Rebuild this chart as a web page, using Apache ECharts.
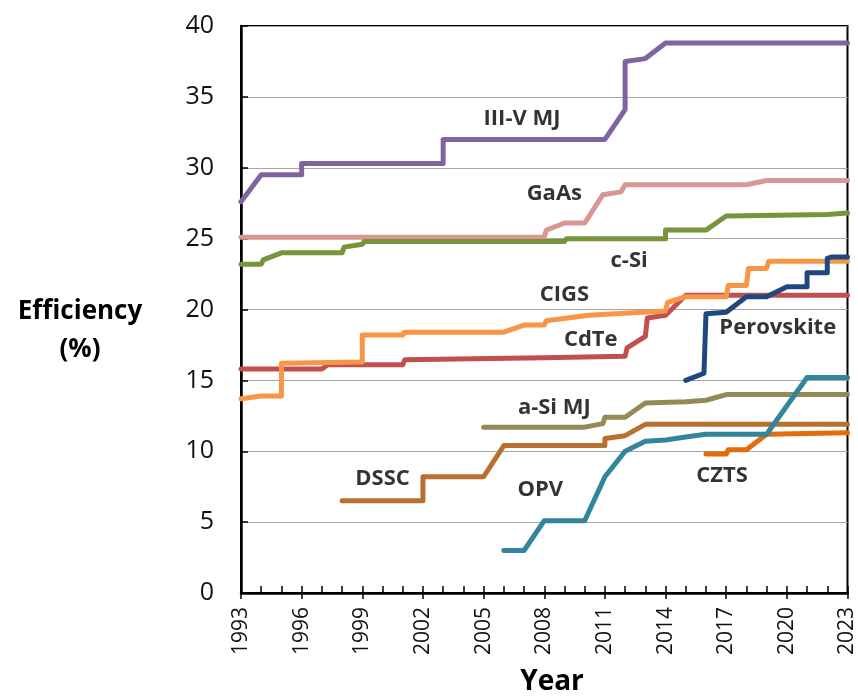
<!DOCTYPE html>
<html>
<head>
<meta charset="utf-8">
<title>Solar cell efficiency records</title>
<script src="https://cdn.jsdelivr.net/npm/echarts@6/dist/echarts.min.js"></script>
<style>
  html, body { margin: 0; padding: 0; background: #fff; }
  #chart { width: 858px; height: 698px; }
</style>
</head>
<body>
<div id="chart"></div>
<script>
// Record cell efficiencies (%) per technology, as [year, efficiency] steps.
const BASE_YEAR = 1993;
const END_YEAR = 2023;
const X_TICK_STEP = 3;
const Y_TICKS = [0, 5, 10, 15, 20, 25, 30, 35, 40];

const iiiVMjYears = [1993, 1994, 1996, 1996, 2003, 2003, 2011, 2012, 2012, 2013, 2014, 2023];
const iiiVMjEff   = [27.6, 29.5, 29.5, 30.3, 30.3, 32.0, 32.0, 34.1, 37.5, 37.7, 38.8, 38.8];

const gaasYears = [1993, 2008, 2008.1, 2009, 2010, 2010.9, 2011.8, 2012, 2018, 2019, 2023];
const gaasEff   = [25.1, 25.1, 25.6, 26.1, 26.1, 28.1, 28.3, 28.8, 28.8, 29.1, 29.1];

const cSiYears = [1993, 1994, 1994.1, 1995, 1998, 1998.1, 1999, 1999.1, 2009, 2009.1, 2014, 2014, 2016, 2017, 2022, 2023];
const cSiEff   = [23.2, 23.2, 23.5, 24.0, 24.0, 24.4, 24.6, 24.8, 24.8, 25.0, 25.0, 25.6, 25.6, 26.6, 26.7, 26.8];

const cdteYears = [1993, 1997, 1997.3, 2001, 2001.1, 2008, 2012, 2012.1, 2013, 2013.1, 2014, 2015, 2023];
const cdteEff   = [15.8, 15.8, 16.1, 16.1, 16.45, 16.6, 16.7, 17.3, 18.1, 19.4, 19.6, 21.0, 21.0];

const cigsYears = [1993, 1994, 1995, 1995, 1999, 1999, 2001, 2001.1, 2006, 2007, 2008, 2008.1, 2010.2, 2014, 2014.1, 2015, 2017, 2017.1, 2018, 2018.1, 2019, 2019.1, 2023];
const cigsEff   = [13.7, 13.9, 13.9, 16.2, 16.3, 18.2, 18.2, 18.4, 18.4, 18.9, 18.9, 19.2, 19.6, 19.9, 20.5, 20.9, 20.9, 21.7, 21.7, 22.9, 22.9, 23.4, 23.4];

const perovskiteYears = [2015, 2015.9, 2016, 2017, 2018, 2019, 2020, 2021, 2021, 2022, 2022, 2022.2, 2023];
const perovskiteEff   = [15.0, 15.5, 19.7, 19.8, 20.9, 20.9, 21.6, 21.6, 22.6, 22.6, 23.6, 23.7, 23.7];

const aSiMjYears = [2005, 2010, 2010.9, 2011, 2012, 2013, 2015, 2016, 2017, 2023];
const aSiMjEff   = [11.7, 11.7, 11.95, 12.4, 12.4, 13.4, 13.5, 13.6, 14.0, 14.0];

const dsscYears = [1998, 2002, 2002, 2005, 2006, 2011, 2011, 2012, 2013, 2023];
const dsscEff   = [6.5, 6.5, 8.2, 8.2, 10.4, 10.4, 10.9, 11.1, 11.9, 11.9];

const opvYears = [2006, 2007, 2008, 2010, 2011, 2012, 2013, 2014, 2015, 2016, 2019, 2021, 2023];
const opvEff   = [3.0, 3.0, 5.1, 5.1, 8.2, 10.0, 10.7, 10.8, 11.0, 11.2, 11.2, 15.2, 15.2];

const cztsYears = [2016, 2017, 2017.1, 2018, 2019, 2023];
const cztsEff   = [9.8, 9.8, 10.1, 10.1, 11.2, 11.3];

// Series drawing setup: name, data, colour.
const SERIES = [
  { name: 'III-V MJ',   years: iiiVMjYears,     eff: iiiVMjEff,     color: '#8064A2' },
  { name: 'GaAs',       years: gaasYears,       eff: gaasEff,       color: '#D99694' },
  { name: 'c-Si',       years: cSiYears,        eff: cSiEff,        color: '#77933C' },
  { name: 'CdTe',       years: cdteYears,       eff: cdteEff,       color: '#C0504D' },
  { name: 'CIGS',       years: cigsYears,       eff: cigsEff,       color: '#F79646' },
  { name: 'a-Si MJ',    years: aSiMjYears,      eff: aSiMjEff,      color: '#948A54' },
  { name: 'DSSC',       years: dsscYears,       eff: dsscEff,       color: '#B8702F' },
  { name: 'CZTS',       years: cztsYears,       eff: cztsEff,       color: '#E46C0A' },
  { name: 'OPV',        years: opvYears,        eff: opvEff,        color: '#31859C' },
  { name: 'Perovskite', years: perovskiteYears, eff: perovskiteEff, color: '#1F497D' }
];

// Where each technology name sits, in chart coordinates (year, %).
const NAME_ANCHORS = [
  { text: 'III-V MJ',   year: 2006.9, eff: 33.45 },
  { text: 'GaAs',       year: 2008.5, eff: 28.2 },
  { text: 'c-Si',       year: 2012.2, eff: 23.45 },
  { text: 'CIGS',       year: 2009.0, eff: 21.05 },
  { text: 'CdTe',       year: 2010.3, eff: 17.9 },
  { text: 'Perovskite', year: 2019.55, eff: 18.7 },
  { text: 'a-Si MJ',    year: 2008.5, eff: 13.1 },
  { text: 'DSSC',       year: 2000.0, eff: 8.03 },
  { text: 'OPV',        year: 2007.8, eff: 7.25 },
  { text: 'CZTS',       year: 2016.8, eff: 8.24 }
];

const FONT = '"Open Sans", "Noto Sans", sans-serif';
const toX = y => y - BASE_YEAR;

const chart = echarts.init(document.getElementById('chart'), null, { renderer: 'canvas' });

const lineSeries = SERIES.map(s => ({
  type: 'line',
  name: s.name,
  xAxisIndex: 0,
  yAxisIndex: 0,
  showSymbol: false,
  symbol: 'none',
  silent: true,
  animation: false,
  lineStyle: { color: s.color, width: 5, cap: 'round', join: 'round' },
  data: s.years.map((yr, i) => [toX(yr), s.eff[i]])
}));

const nameSeries = {
  type: 'scatter',
  xAxisIndex: 0,
  yAxisIndex: 0,
  symbolSize: 0,
  silent: true,
  animation: false,
  z: 10,
  label: {
    show: true,
    position: 'inside',
    formatter: p => p.data.name,
    color: '#000',
    fontFamily: FONT,
    fontWeight: 'bold',
    fontSize: 22
  },
  data: NAME_ANCHORS.map(a => ({ name: a.text, value: [toX(a.year), a.eff] }))
};

const xSpan = END_YEAR - BASE_YEAR;

chart.setOption({
  backgroundColor: '#fff',
  animation: false,
  grid: {
    left: 241, right: 8, top: 26, bottom: 105,
    show: true, borderColor: '#000', borderWidth: 2, backgroundColor: 'transparent'
  },
  xAxis: [
    {
      type: 'value',
      min: 0, max: xSpan, interval: X_TICK_STEP,
      axisLine: { show: true, lineStyle: { color: '#000', width: 2.5 } },
      axisTick: { show: true, inside: true, length: 7, lineStyle: { color: '#000', width: 1.5 } },
      minorTick: { show: true, splitNumber: X_TICK_STEP, length: 7, lineStyle: { color: '#000', width: 1.5 } },
      splitLine: { show: false },
      axisLabel: {
        show: true, rotate: 90, margin: 14,
        color: '#111', fontFamily: FONT, fontSize: 21,
        formatter: v => String(BASE_YEAR + v)
      }
    },
    {
      type: 'value',
      position: 'bottom',
      min: 0, max: xSpan, interval: X_TICK_STEP,
      axisLine: { show: false },
      axisTick: { show: true, inside: false, length: 6, lineStyle: { color: '#000', width: 1.5 } },
      splitLine: { show: false },
      axisLabel: { show: false }
    }
  ],
  yAxis: {
    type: 'value',
    min: Y_TICKS[0], max: Y_TICKS[Y_TICKS.length - 1], interval: Y_TICKS[1] - Y_TICKS[0],
    axisLine: { show: true, lineStyle: { color: '#000', width: 2.5 } },
    axisTick: { show: true, inside: true, length: 7, lineStyle: { color: '#000', width: 1.5 } },
    splitLine: { show: true, lineStyle: { color: '#a6a6a6', width: 1.2 } },
    axisLabel: { color: '#111', fontFamily: FONT, fontSize: 25, margin: 27 }
  },
  graphic: [
    {
      type: 'text',
      style: { text: 'Efficiency', x: 80, y: 312, textAlign: 'center', textVerticalAlign: 'middle',
               fill: '#000', font: 'bold 26px ' + FONT }
    },
    {
      type: 'text',
      style: { text: '(%)', x: 80, y: 350, textAlign: 'center', textVerticalAlign: 'middle',
               fill: '#000', font: 'bold 26px ' + FONT }
    },
    {
      type: 'text',
      style: { text: 'Year', x: 552, y: 682, textAlign: 'center', textVerticalAlign: 'middle',
               fill: '#000', font: 'bold 28px ' + FONT }
    }
  ],
  series: lineSeries.concat([nameSeries])
});
</script>
</body>
</html>
